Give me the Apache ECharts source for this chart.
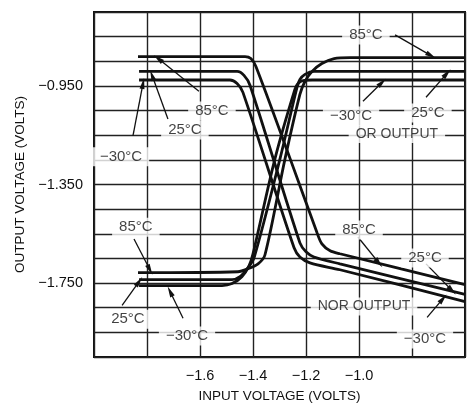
<!DOCTYPE html>
<html>
<head>
<meta charset="utf-8">
<title>OR / NOR transfer curves</title>
<script src="https://cdn.jsdelivr.net/npm/echarts@6/dist/echarts.min.js"></script>
<style>
  html, body { margin: 0; padding: 0; background: #fff; }
  #chart { width: 474px; height: 408px; }
</style>
</head>
<body>
<div id="chart"></div>
<script>
// [input volts, output volts]
var nor85 = [[-1.834, -0.831], [-1.430, -0.831], [-1.408, -0.839], [-1.389, -0.871], [-1.260, -1.245],
  [-1.158, -1.547], [-1.140, -1.591], [-1.109, -1.619], [-1.072, -1.631], [-0.600, -1.756]];
var nor25 = [[-1.830, -0.891], [-1.460, -0.891], [-1.434, -0.907], [-1.411, -0.948], [-1.223, -1.587],
  [-1.200, -1.623], [-1.170, -1.644], [-1.072, -1.672], [-0.600, -1.796]];
var norM30 = [[-1.830, -0.926], [-1.487, -0.926], [-1.460, -0.940], [-1.438, -0.976], [-1.245, -1.607],
  [-1.223, -1.644], [-1.185, -1.668], [-1.072, -1.696], [-0.600, -1.825]];
var or85 = [[-1.834, -1.708], [-1.457, -1.704], [-1.419, -1.692], [-1.381, -1.672], [-1.355, -1.636],
  [-1.279, -1.245], [-1.223, -0.984], [-1.204, -0.932], [-1.177, -0.891], [-1.140, -0.859],
  [-1.094, -0.839], [-1.034, -0.835], [-0.600, -0.835]];
var or25 = [[-1.830, -1.736], [-1.479, -1.736], [-1.449, -1.724], [-1.419, -1.688], [-1.396, -1.648],
  [-1.298, -1.245], [-1.234, -0.956], [-1.223, -0.924], [-1.204, -0.903], [-1.170, -0.891], [-0.600, -0.891]];
var orM30 = [[-1.830, -1.760], [-1.517, -1.760], [-1.479, -1.752], [-1.442, -1.724], [-1.415, -1.680],
  [-1.400, -1.631], [-1.317, -1.245], [-1.242, -0.964], [-1.230, -0.940], [-1.211, -0.928],
  [-1.177, -0.926], [-0.600, -0.926]];

// tick values that carry a label
var xLabelValues = [-1.6, -1.4, -1.2, -1.0];
var yLabelValues = [-0.95, -1.35, -1.75];

// annotation texts and where they sit (data units)
var noteTexts = ['85°C', '25°C', '\u221230°C', '85°C', '25°C', '\u221230°C',
  '85°C', '\u221230°C', '25°C', 'OR OUTPUT', '85°C', '25°C', 'NOR OUTPUT', '\u221230°C'];
var noteX = [-1.555, -1.657, -1.898, -1.842, -1.872, -1.649, -0.974, -1.030, -0.740, -0.857, -1.000, -0.751, -0.981, -0.751];
var noteY = [-1.052, -1.129, -1.237, -1.523, -1.897, -1.965, -0.743, -1.072, -1.060, -1.145, -1.535, -1.648, -1.845, -1.977];

// arrows: from (tail) -> to (head), data units
var arrowFrom = [[-1.604, -0.972], [-1.721, -1.084], [-1.853, -1.153], [-1.849, -1.571], [-1.894, -1.841],
  [-1.664, -1.893], [-0.864, -0.743], [-0.985, -1.012], [-0.747, -0.996], [-1.004, -1.563],
  [-0.747, -1.672], [-0.743, -1.889]];
var arrowTo = [[-1.758, -0.839], [-1.781, -0.907], [-1.815, -0.940], [-1.789, -1.696], [-1.830, -1.744],
  [-1.713, -1.784], [-0.728, -0.827], [-0.913, -0.936], [-0.668, -0.899], [-0.925, -1.668],
  [-0.649, -1.780], [-0.683, -1.813]];

var curves = [
  { name: 'NOR 85°C', data: nor85 },
  { name: 'NOR 25°C', data: nor25 },
  { name: 'NOR -30°C', data: norM30 },
  { name: 'OR 85°C', data: or85 },
  { name: 'OR 25°C', data: or25 },
  { name: 'OR -30°C', data: orM30 }
];

var ink = '#111';
var font = 'Liberation Sans, Arial, sans-serif';

function hasValue(list, v) {
  return list.some(function (t) { return Math.abs(t - v) < 1e-6; });
}
function withMinus(s) {
  return s.replace('-', '\u2212');
}

var chart = echarts.init(document.getElementById('chart'));

var series = curves.map(function (c) {
  return {
    name: c.name,
    type: 'line',
    data: c.data,
    smooth: 0.3,
    showSymbol: false,
    silent: true,
    lineStyle: { color: ink, width: 2.8 }
  };
});

series.push({
  name: 'notes',
  type: 'scatter',
  symbolSize: 0,
  silent: true,
  z: 5,
  data: noteTexts.map(function (t, i) {
    // the two OUTPUT captions are set a bit smaller than the temperatures
    var small = t.indexOf('OUTPUT') >= 0;
    return { name: t, value: [noteX[i], noteY[i]], label: { fontSize: small ? 14 : 15 } };
  }),
  label: {
    show: true,
    position: 'inside',
    formatter: '{b}',
    color: ink,
    fontFamily: font,
    fontSize: 15,
    backgroundColor: '#fff',
    padding: [2, 7]
  },
  markLine: {
    silent: true,
    animation: false,
    label: { show: false },
    lineStyle: { color: ink, width: 1.3, type: 'solid' },
    data: arrowFrom.map(function (p, i) {
      return [
        { coord: p, symbol: 'none' },
        { coord: arrowTo[i], symbol: 'triangle', symbolSize: [5, 11] }
      ];
    })
  }
});

chart.setOption({
  animation: false,
  backgroundColor: '#fff',
  grid: {
    left: 94, top: 12, right: 9, bottom: 48,
    show: true, borderColor: ink, borderWidth: 2, backgroundColor: '#fff'
  },
  xAxis: {
    type: 'value',
    min: -2.0, max: -0.6, interval: 0.2,
    name: 'INPUT VOLTAGE (VOLTS)',
    nameLocation: 'middle',
    nameGap: 32,
    nameTextStyle: { color: ink, fontFamily: font, fontSize: 13.5 },
    axisLine: { show: false },
    axisTick: { show: false },
    axisLabel: {
      color: ink, fontFamily: font, fontSize: 14.5, margin: 11,
      formatter: function (v) { return hasValue(xLabelValues, v) ? withMinus(v.toFixed(1)) : ''; }
    },
    splitLine: { show: true, lineStyle: { color: '#222', width: 1.4 } }
  },
  yAxis: {
    type: 'value',
    min: -2.05, max: -0.65, interval: 0.1,
    name: 'OUTPUT VOLTAGE (VOLTS)',
    nameLocation: 'middle',
    nameGap: 67,
    nameTextStyle: { color: ink, fontFamily: font, fontSize: 13.5 },
    axisLine: { show: false },
    axisTick: { show: false },
    axisLabel: {
      color: ink, fontFamily: font, fontSize: 14.5, margin: 11,
      formatter: function (v) { return hasValue(yLabelValues, v) ? withMinus(v.toFixed(3)) : ''; }
    },
    splitLine: { show: true, lineStyle: { color: '#222', width: 1.4 } }
  },
  series: series
});
</script>
</body>
</html>
